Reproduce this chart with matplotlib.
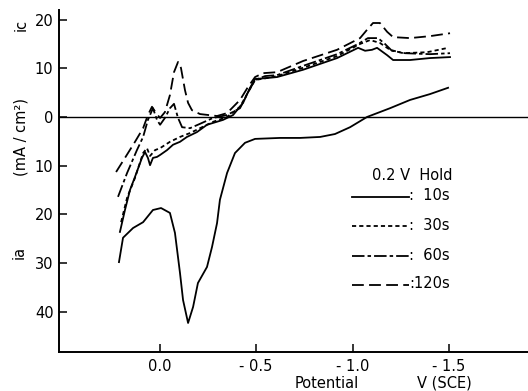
import matplotlib
matplotlib.use("Agg")
import matplotlib.pyplot as plt
from matplotlib.lines import Line2D

plt.rcParams["font.family"] = ["DejaVu Sans"]
plt.rcParams["lines.scale_dashes"] = False

# Potential (V vs SCE) and current density (mA/cm^2, cathodic positive)
base_v = [0.210, 0.189, 0.137, 0.085, 0.034, -0.008, -0.054, -0.080, -0.106, -0.122,
          -0.148, -0.174, -0.199, -0.246, -0.272, -0.298, -0.313, -0.350, -0.391, -0.443,
          -0.495, -0.624, -0.728, -0.832, -0.909, -0.987, -1.075, -1.194, -1.298, -1.401, -1.495]
base_i = [-29.8, -24.8, -22.8, -21.6, -19.1, -18.7, -19.7, -23.8, -32.0, -37.6,
          -42.3, -39.0, -34.1, -30.8, -26.7, -21.8, -17.0, -11.5, -7.4, -5.3,
          -4.5, -4.3, -4.3, -4.1, -3.5, -2.1, 0.0, 1.8, 3.5, 4.7, 6.0]

hold10_v = [0.205, 0.179, 0.153, 0.127, 0.091, 0.075, 0.060, 0.049, 0.034, 0.013, -0.003,
            -0.039, -0.070, -0.106, -0.142, -0.194, -0.246, -0.329, -0.381, -0.433, -0.469,
            -0.495, -0.557, -0.609, -0.744, -0.920, -1.029, -1.065, -1.101, -1.127, -1.179,
            -1.210, -1.298, -1.401, -1.505]
hold10_i = [-23.6, -19.1, -15.0, -12.3, -8.4, -7.2, -8.4, -9.9, -8.4, -8.2, -7.8,
            -6.8, -5.7, -5.1, -4.1, -3.1, -1.6, -0.6, 0.4, 2.9, 6.0,
            7.8, 8.0, 8.2, 9.7, 12.1, 14.2, 13.6, 13.8, 14.2, 12.7,
            11.7, 11.7, 12.1, 12.3]

hold30_v = [0.199, 0.168, 0.127, 0.085, 0.065, 0.049, 0.023, -0.003, -0.054, -0.106,
            -0.158, -0.210, -0.277, -0.350, -0.417, -0.459, -0.495, -0.557, -0.609, -0.744,
            -0.920, -1.039, -1.091, -1.142, -1.194, -1.262, -1.386, -1.495]
hold30_i = [-21.6, -16.6, -12.5, -7.4, -6.4, -8.0, -6.8, -6.4, -5.1, -4.1,
            -3.3, -2.3, -1.0, 0.0, 2.1, 5.1, 7.6, 8.0, 8.4, 10.1,
            12.5, 15.0, 15.8, 15.2, 13.8, 13.1, 13.3, 14.2]

hold60_v = [0.215, 0.168, 0.117, 0.085, 0.060, 0.034, 0.013, -0.003, -0.028, -0.054,
            -0.075, -0.096, -0.117, -0.158, -0.210, -0.277, -0.350, -0.417, -0.459, -0.495,
            -0.547, -0.609, -0.744, -0.920, -1.029, -1.080, -1.132, -1.168, -1.204, -1.272,
            -1.401, -1.505]
hold60_i = [-16.4, -11.5, -6.8, -4.1, -0.6, 1.8, -0.6, -1.6, -0.2, 1.8,
            2.7, -0.2, -2.1, -2.3, -1.4, -0.2, 0.4, 1.8, 5.1, 7.6,
            8.4, 8.6, 10.5, 12.9, 15.0, 16.2, 16.2, 15.0, 13.6, 13.1,
            12.9, 13.1]

hold120_v = [0.225, 0.179, 0.127, 0.085, 0.060, 0.039, 0.018, -0.003, -0.028, -0.054,
             -0.075, -0.096, -0.111, -0.132, -0.148, -0.168, -0.210, -0.298, -0.350, -0.417,
             -0.459, -0.495, -0.536, -0.609, -0.744, -0.920, -1.039, -1.075, -1.106, -1.142,
             -1.179, -1.210, -1.298, -1.401, -1.505]
hold120_i = [-11.3, -8.4, -5.1, -2.3, 0.4, 2.1, 0.8, -0.2, 1.0, 4.5,
             9.2, 11.3, 10.1, 5.5, 2.9, 1.4, 0.6, 0.2, 0.8, 3.5,
             6.2, 8.2, 9.0, 9.2, 11.5, 13.8, 16.2, 17.9, 19.3, 19.3,
             17.5, 16.4, 16.2, 16.6, 17.2]

x_ticks = [0.0, -0.5, -1.0, -1.5]
x_ticklabels = ["0.0", "- 0.5", "- 1.0", "- 1.5"]
y_ticks = [20, 10, 0, -10, -20, -30, -40]
y_ticklabels = ["20", "10", "0", "10", "20", "30", "40"]

legend_title = "0.2 V  Hold"
legend_labels = [":  10s", ":  30s", ":  60s", ":120s"]

W, H = 528, 391
fig = plt.figure(figsize=(W / 100, H / 100), dpi=100)


def fx(px):
    return px / W


def fy(py):
    return 1 - py / H


ax = fig.add_axes([fx(59), fy(351.7), fx(528 - 59), (351.7 - 10) / H])
ax.set_xlim(0.5207, -1.909)
ax.set_ylim(-48.2, 21.97)

for s in ("top", "right"):
    ax.spines[s].set_visible(False)
for s in ("left", "bottom"):
    ax.spines[s].set_linewidth(1.4)

ax.axhline(0, color="black", lw=1.0)

styles = {
    "solid": dict(linestyle="-"),
    "short": dict(linestyle=(0, (3.0, 2.2))),
    "dashdot": dict(linestyle=(0, (9.0, 2.2, 2.5, 2.2))),
    "long": dict(linestyle=(0, (8.5, 3.8))),
}

lw = 1.3
ax.plot(base_v, base_i, color="black", lw=lw, **styles["solid"])
ax.plot(hold10_v, hold10_i, color="black", lw=lw, **styles["solid"])
ax.plot(hold30_v, hold30_i, color="black", lw=lw, **styles["short"])
ax.plot(hold60_v, hold60_i, color="black", lw=lw, **styles["dashdot"])
ax.plot(hold120_v, hold120_i, color="black", lw=lw, **styles["long"])

ax.set_xticks(x_ticks)
ax.set_xticklabels(x_ticklabels)
ax.set_yticks(y_ticks)
ax.set_yticklabels(y_ticklabels)
ax.tick_params(direction="in", length=6, width=1.1, labelsize=10.5, colors="black")
ax.tick_params(axis="y", pad=4)
ax.tick_params(axis="x", pad=5)

# axis captions
fig.text(fx(21), fy(25), "ic", rotation=90, ha="center", va="center", fontsize=10.5)
fig.text(fx(21), fy(137), "(mA / cm²)", rotation=90, ha="center", va="center", fontsize=10.5)
fig.text(fx(19), fy(252), "ia", rotation=90, ha="center", va="center", fontsize=10.5)
fig.text(fx(327), fy(383), "Potential", ha="center", va="center", fontsize=10.5)
fig.text(fx(444), fy(383), "V (SCE)", ha="center", va="center", fontsize=10.5)

# hand-placed legend
fig.text(fx(412), fy(176), legend_title, ha="center", va="center", fontsize=10.5)
rows_y = [197, 226, 256, 285]
for yy, key, lab in zip(rows_y, ["solid", "short", "dashdot", "long"], legend_labels):
    fig.add_artist(Line2D([fx(352), fx(409)], [fy(yy), fy(yy)], color="black", lw=lw,
                          transform=fig.transFigure, **styles[key]))
    fig.text(fx(409), fy(yy - 1), lab, ha="left", va="center", fontsize=10.5)

fig.savefig("out.png", dpi=100)
